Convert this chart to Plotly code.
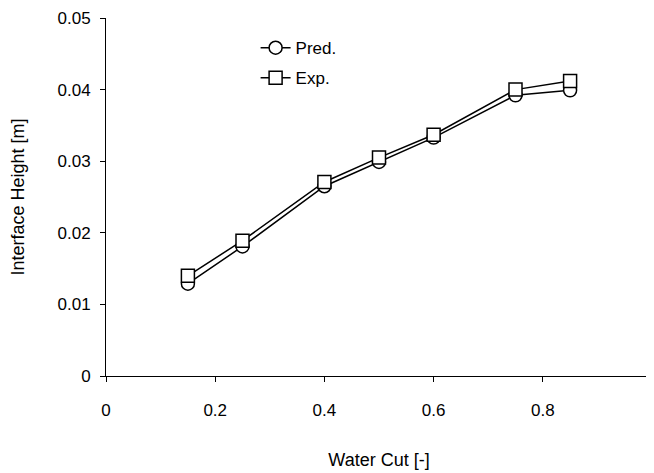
import plotly.graph_objects as go

water_cut = [0.15, 0.25, 0.40, 0.50, 0.60, 0.75, 0.85]
pred = [0.0129, 0.0181, 0.0265, 0.0299, 0.0333, 0.0392, 0.0399]
exp = [0.0140, 0.0189, 0.0271, 0.0305, 0.0337, 0.0400, 0.0412]

FONT = "Liberation Sans, Arial, sans-serif"

fig = go.Figure()
fig.add_trace(go.Scatter(
    x=water_cut, y=pred, name="Pred.", mode="lines+markers", legendgroup="a",
    line=dict(color="black", width=1.5),
    marker=dict(symbol="circle", size=13, color="white",
                line=dict(color="black", width=1.5)),
))
fig.add_trace(go.Scatter(
    x=water_cut, y=exp, name="Exp.", mode="lines+markers", legendgroup="b",
    line=dict(color="black", width=1.5),
    marker=dict(symbol="square", size=13, color="white",
                line=dict(color="black", width=1.5)),
))

fig.update_layout(
    width=654, height=473,
    margin=dict(l=98, r=10, t=10, b=105),
    plot_bgcolor="white", paper_bgcolor="white",
    font=dict(family=FONT, size=17, color="black"),
    legend=dict(x=0.274, y=0.966, xanchor="left", yanchor="top",
                bgcolor="rgba(0,0,0,0)", font=dict(size=17),
                itemwidth=30, tracegroupgap=5),
    showlegend=True,
)
fig.update_xaxes(
    range=[0, 1], tickvals=[0, 0.2, 0.4, 0.6, 0.8, 1],
    ticktext=["0", "0.2", "0.4", "0.6", "0.8", "1"],
    showline=True, linecolor="black", linewidth=1, mirror=False,
    ticks="outside", ticklen=5, tickcolor="black",
    showgrid=False, zeroline=False, automargin=False,
    ticklabelstandoff=14,
    title=dict(text="Water Cut [-]", font=dict(size=18), standoff=33),
)
fig.update_yaxes(
    range=[0, 0.05], tickvals=[0, 0.01, 0.02, 0.03, 0.04, 0.05],
    ticktext=["0", "0.01", "0.02", "0.03", "0.04", "0.05"],
    showline=True, linecolor="black", linewidth=1, mirror=False,
    ticks="outside", ticklen=5, tickcolor="black",
    showgrid=False, zeroline=False, automargin=False,
    ticklabelstandoff=6,
    title=dict(text="Interface Height [m]", font=dict(size=18), standoff=28),
)

fig.write_html("out.html")
